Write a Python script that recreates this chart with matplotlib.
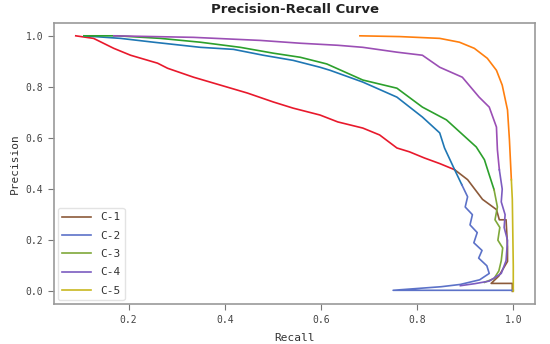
import matplotlib.pyplot as plt

labels = ["C-1", "C-2", "C-3", "C-4", "C-5"]

# upper part of each curve (vivid colour)
c1_rec = [0.09, 0.127, 0.169, 0.204, 0.26, 0.281, 0.335, 0.391, 0.447, 0.501, 0.542, 0.598,
          0.635, 0.687, 0.722, 0.758, 0.784, 0.815, 0.847, 0.878]
c1_prec = [1.0, 0.99, 0.951, 0.924, 0.893, 0.873, 0.838, 0.807, 0.776, 0.741, 0.717, 0.69,
           0.663, 0.639, 0.612, 0.561, 0.546, 0.522, 0.5, 0.476]
c2_rec = [0.107, 0.183, 0.252, 0.349, 0.418, 0.48, 0.542, 0.598, 0.619, 0.687, 0.758, 0.811,
          0.847, 0.857, 0.878, 0.893]
c2_prec = [1.0, 0.99, 0.975, 0.955, 0.947, 0.924, 0.904, 0.877, 0.865, 0.819, 0.76, 0.682,
           0.62, 0.561, 0.476, 0.417]
c3_rec = [0.107, 0.177, 0.266, 0.349, 0.432, 0.501, 0.557, 0.612, 0.687, 0.758, 0.811, 0.861,
          0.923, 0.94, 0.95, 0.96]
c3_prec = [1.0, 1.0, 0.99, 0.975, 0.955, 0.932, 0.916, 0.89, 0.827, 0.795, 0.721, 0.671,
           0.565, 0.515, 0.456, 0.398]
c4_rec = [0.169, 0.335, 0.474, 0.557, 0.635, 0.687, 0.758, 0.811, 0.847, 0.894, 0.929, 0.95,
          0.965, 0.967, 0.971]
c4_prec = [1.0, 0.994, 0.982, 0.971, 0.963, 0.955, 0.936, 0.924, 0.877, 0.838, 0.76, 0.721,
           0.643, 0.554, 0.476]
c5_rec = [0.681, 0.764, 0.847, 0.888, 0.919, 0.946, 0.965, 0.977, 0.988, 0.992, 0.996]
c5_prec = [1.0, 0.997, 0.99, 0.975, 0.951, 0.912, 0.865, 0.807, 0.71, 0.593, 0.437]

# lower tails (legend colour)
c1_tail_rec = [0.878, 0.905, 0.936, 0.965, 0.971, 0.985, 0.988, 0.988, 0.97, 0.954, 0.998, 0.998]
c1_tail_prec = [0.476, 0.437, 0.36, 0.32, 0.28, 0.28, 0.175, 0.117, 0.06, 0.031, 0.031, 0.0]
c2_tail_rec = [0.893, 0.905, 0.9, 0.915, 0.91, 0.925, 0.918, 0.935, 0.928, 0.945, 0.95, 0.93,
               0.89, 0.85, 0.75, 1.0]
c2_tail_prec = [0.417, 0.37, 0.33, 0.3, 0.26, 0.23, 0.19, 0.16, 0.13, 0.1, 0.07, 0.045,
                0.027, 0.018, 0.004, 0.004]
c3_tail_rec = [0.96, 0.967, 0.962, 0.972, 0.968, 0.978, 0.975, 0.97, 0.96, 0.94]
c3_tail_prec = [0.398, 0.33, 0.28, 0.25, 0.2, 0.17, 0.12, 0.08, 0.05, 0.035]
c4_tail_rec = [0.971, 0.977, 0.975, 0.983, 0.981, 0.988, 0.985, 0.975, 0.95, 0.92, 0.89]
c4_tail_prec = [0.476, 0.4, 0.35, 0.3, 0.25, 0.2, 0.12, 0.07, 0.04, 0.03, 0.022]
c5_tail_rec = [0.996, 0.998, 1.0, 1.0]
c5_tail_prec = [0.437, 0.36, 0.1, 0.0]

heads = [(c1_rec, c1_prec), (c2_rec, c2_prec), (c3_rec, c3_prec), (c4_rec, c4_prec), (c5_rec, c5_prec)]
tails = [(c1_tail_rec, c1_tail_prec), (c2_tail_rec, c2_tail_prec), (c3_tail_rec, c3_tail_prec),
         (c4_tail_rec, c4_tail_prec), (c5_tail_rec, c5_tail_prec)]
head_colors = ["#e8192c", "#1f77b4", "#2ca02c", "#9b4fb5", "#ff7f0e"]
tail_colors = ["#8c5a3a", "#5c72c8", "#7fa83a", "#7c5cc0", "#c8b820"]

mono = "DejaVu Sans Mono"
fig, ax = plt.subplots(figsize=(5.5, 3.44), dpi=100)
fig.subplots_adjust(left=0.098, right=0.973, top=0.933, bottom=0.116)

for (hx, hy), (tx, ty), hc, tc, lab in zip(heads, tails, head_colors, tail_colors, labels):
    ax.plot(hx, hy, color=hc, lw=1.2)
    ax.plot(tx, ty, color=tc, lw=1.2, label=lab)

ax.set_xticks([0.2, 0.4, 0.6, 0.8, 1.0])
ax.set_yticks([0.0, 0.2, 0.4, 0.6, 0.8, 1.0])
for lbl in ax.get_xticklabels() + ax.get_yticklabels():
    lbl.set_family(mono)
    lbl.set_fontsize(7)
ax.tick_params(colors="#777777", length=4, labelcolor="#444444")
for s in ax.spines.values():
    s.set_color("#999999")
    s.set_linewidth(1.2)

ax.set_xlabel("Recall", family=mono, fontsize=8, color="#333333", labelpad=6)
ax.set_ylabel("Precision", family=mono, fontsize=8, color="#333333", labelpad=4)
ax.set_title("Precision-Recall Curve", fontsize=9.5, fontweight="bold", color="#222222", pad=7)

leg = ax.legend(loc="lower left", prop={"family": mono, "size": 8}, labelspacing=0.75,
                handlelength=2.6, borderaxespad=0.35, framealpha=0.8, edgecolor="#dddddd")
for t in leg.get_texts():
    t.set_color("#333333")

fig.savefig("out.png")
